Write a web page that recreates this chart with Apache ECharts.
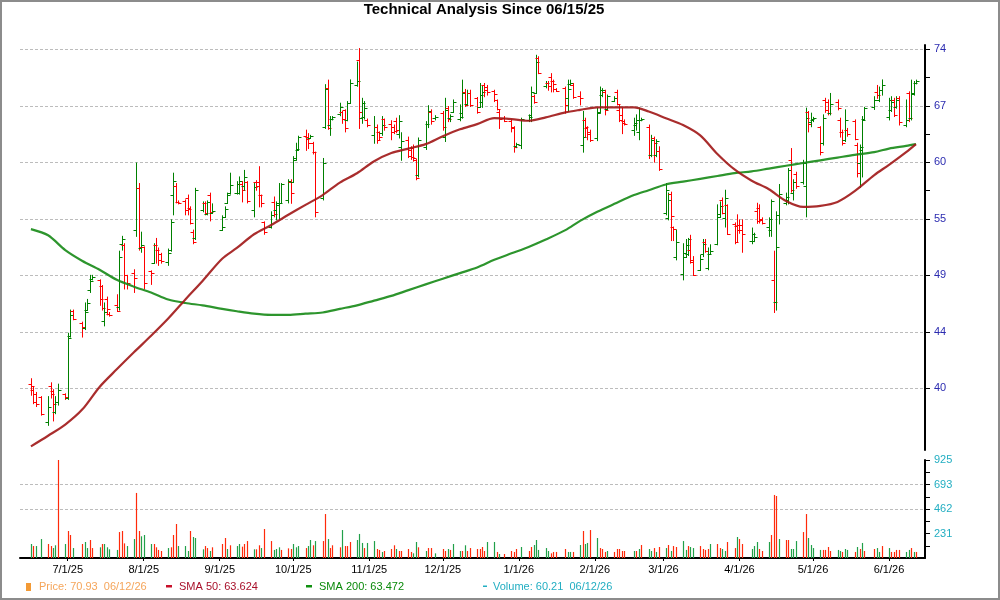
<!DOCTYPE html>
<html>
<head>
<meta charset="utf-8">
<script src="https://cdn.jsdelivr.net/npm/echarts@6/dist/echarts.min.js"></script>
<style>
  html, body { margin: 0; padding: 0; background: #fff; }
  #chart { width: 1000px; height: 600px; }
</style>
</head>
<body>
<div id="chart"></div>
<script>
// ---- data ----
const titleText = 'Technical Analysis Since 06/15/25';
const priceTicks = ['40', '44', '49', '55', '60', '67', '74'];   // log-spaced gridlines
const volumeTicks = [231, 462, 693, 925];
const legendTexts = ['Price: 70.93  06/12/26', 'SMA 50: 63.624', 'SMA 200: 63.472', 'Volume: 60.21  06/12/26'];
const monthStarts = ['2025-07-01', '2025-08-01', '2025-09-01', '2025-10-01', '2025-11-01', '2025-12-01',
  '2026-01-01', '2026-02-01', '2026-03-01', '2026-04-01', '2026-05-01', '2026-06-01'];
const holidays = ['2025-06-19', '2025-07-04', '2025-09-01', '2025-11-27', '2025-12-25',
  '2026-01-01', '2026-01-19', '2026-02-16', '2026-04-03', '2026-05-25'];

// open, high, low, close for each trading day 06/16/25 .. 06/12/26
const ohlc = [
  // Jun 25
  [40.3,40.7,39.5,40.2],[39.9,40.1,38.9,39.0],[39.6,39.7,38.7,38.9],[39.4,39.4,38.1,38.2],
  [37.6,39.4,37.4,38.7],[40.2,40.4,39.3,39.6],[39.8,39.9,37.7,38.9],[38.3,39.4,38.2,39.0],[39.0,40.3,38.8,39.9],
  [39.6,39.6,39.2,39.35],
  // Jul
  [39.3,44.2,39.2,43.8],[44.0,46.1,43.9,45.7],[46.0,46.1,45.3,45.4],
  [45.0,45.1,43.9,44.7],[44.6,46.7,44.5,45.9],[46.1,47.0,46.1,46.7],[47.8,49.1,47.6,48.6],[48.8,49.1,48.7,48.95],
  [48.7,48.7,46.5,47.0],[48.2,48.2,46.1,46.3],[45.2,46.7,44.8,45.9],[47.0,47.2,45.7,46.2],[45.8,45.9,45.6,45.65],
  [46.5,47.4,46.0,46.0],[46.4,51.3,46.1,50.8],[52.0,52.7,51.4,52.4],[51.9,52.0,47.9,49.1],[49.1,49.1,47.9,48.4],
  [49.3,49.6,47.6,48.9],[53.3,60.2,52.7,57.5],[57.5,58.0,51.4,51.7],[51.6,53.1,51.2,51.9],
  // Aug
  [51.7,51.7,47.9,48.4],
  [49.5,49.5,48.3,49.3],[50.2,52.0,50.2,51.9],[51.9,52.5,50.2,51.4],[51.4,51.6,50.0,50.5],[51.0,51.1,50.2,50.4],
  [50.3,51.5,50.0,51.1],[51.4,54.3,51.3,54.1],[56.8,59.1,54.8,58.3],[57.7,58.0,56.0,56.1],[56.1,56.2,55.9,56.0],
  [56.2,56.3,54.8,55.3],[56.5,56.8,54.8,55.4],[55.5,55.6,53.9,54.0],[53.1,53.3,52.0,52.2],[52.5,57.5,52.4,57.3],
  [55.3,56.1,55.1,56.0],[55.96,56.1,54.8,54.95],[54.9,56.2,54.8,56.1],[56.8,57.0,54.2,55.1],[55.0,55.9,55.0,55.2],
  // Sep
  [53.3,54.7,53.3,53.6],[54.6,55.6,54.6,55.4],[56.0,57.0,56.0,56.8],[57.0,59.1,56.9,57.8],
  [57.0,58.2,56.9,58.0],[57.0,58.7,56.9,58.3],[58.0,58.2,56.1,57.3],[57.7,59.4,57.3,58.7],[58.2,58.2,56.0,56.2],
  [55.3,58.0,54.6,57.6],[58.2,58.3,57.3,57.7],[58.2,59.8,55.6,56.8],[56.8,56.8,55.6,55.96],[54.1,54.1,52.9,53.1],
  [53.6,55.1,53.5,54.8],[56.1,56.6,54.6,54.9],[55.3,56.1,54.3,56.0],[55.8,58.0,54.3,56.0],[56.0,58.0,56.0,57.9],
  [56.3,58.4,56.0,58.3],[58.2,58.4,55.96,57.0],
  // Oct
  [58.2,60.9,58.2,60.5],[60.7,62.4,60.5,61.8],[61.6,63.2,61.6,63.1],
  [63.2,63.9,61.6,62.9],[63.1,63.5,61.8,62.4],[63.0,63.3,63.0,63.2],[62.4,62.5,61.2,61.4],[61.4,61.4,54.6,55.1],
  [56.5,60.7,56.3,60.2],[64.3,69.4,64.1,68.9],[69.0,69.97,64.0,64.1],[64.5,65.5,63.3,65.2],[65.2,65.5,65.1,65.4],
  [65.8,67.1,65.6,66.7],[66.1,66.1,64.7,65.2],[66.3,66.3,63.7,64.2],[65.1,67.3,65.0,67.1],[67.1,70.0,67.1,69.6],
  [69.3,72.3,69.2,69.8],[72.6,74.1,64.1,66.1],[65.3,67.7,64.7,67.1],[65.5,67.3,65.2,66.5],[65.1,65.2,64.3,64.5],
  // Nov
  [63.3,65.5,62.4,64.3],[64.3,64.5,62.4,62.8],[63.7,63.7,62.8,63.1],[63.6,65.5,63.3,64.5],[65.2,65.2,63.9,64.3],
  [64.6,65.0,62.8,63.7],[64.3,64.5,63.5,63.8],[65.0,65.3,63.6,63.9],[63.5,65.6,63.0,65.0],[62.0,63.6,60.5,62.6],
  [62.8,63.1,60.8,61.0],[61.6,62.0,60.6,60.9],[61.9,62.2,60.4,60.7],[60.5,60.6,58.4,58.6],[58.9,63.0,58.7,62.8],
  [62.0,64.9,61.7,64.6],[64.6,66.8,64.2,66.2],[66.0,66.3,64.6,65.0],[65.3,65.6,65.1,65.5],
  // Dec
  [65.9,66.1,63.9,64.3],[63.1,67.7,62.6,66.3],[66.5,66.7,64.9,65.15],[65.3,65.7,64.9,65.6],[66.1,67.5,66.0,67.3],
  [65.2,66.9,65.0,65.4],[65.9,69.97,65.3,68.3],[68.5,68.8,66.7,66.9],[67.0,68.7,66.9,68.3],[68.3,68.7,66.7,66.9],
  [67.7,67.8,65.9,66.1],[66.7,69.55,66.6,68.1],[67.3,69.3,66.6,68.5],[69.3,69.55,67.9,68.7],[69.1,69.3,68.1,68.5],
  [68.6,68.7,67.3,68.2],[67.5,67.5,66.3,66.35],[66.1,66.3,64.1,65.2],[65.3,65.5,64.9,65.0],
  [65.0,65.1,63.7,64.3],[64.2,64.3,61.4,62.0],[62.1,62.4,61.9,62.3],
  // Jan 26
  [62.2,65.3,61.8,65.2],
  [65.1,65.7,64.9,65.5],[65.7,69.1,64.9,68.5],[68.0,68.1,67.1,67.3],[68.4,73.2,68.3,72.3],[72.8,73.0,70.8,70.9],
  [69.2,69.8,69.0,69.55],[69.6,69.8,68.7,69.2],[70.4,70.8,68.5,69.8],[69.9,69.97,68.5,69.5],[68.8,68.9,68.6,68.65],
  [69.0,69.1,65.9,66.9],[67.7,69.97,66.1,68.8],[69.5,69.97,69.3,69.6],[69.3,69.55,67.7,67.9],
  [68.0,68.5,66.9,67.8],[62.2,66.1,61.4,63.1],[65.1,65.3,63.1,64.3],[64.1,64.3,62.8,63.5],[63.7,63.9,62.6,62.8],
  // Feb
  [63.0,66.5,62.7,65.9],[66.0,69.1,65.9,68.7],[68.1,68.9,67.9,68.7],[68.5,68.7,65.7,66.3],[66.35,68.1,66.3,68.0],
  [67.4,67.9,67.3,67.7],[68.5,68.7,66.9,67.0],[66.3,66.9,64.9,65.1],[65.7,66.5,63.5,64.7],[65.0,65.1,64.5,64.6],
  [63.9,65.3,63.3,64.7],[64.5,65.7,63.9,65.1],[63.7,66.5,62.8,65.1],[65.1,65.3,65.0,65.25],
  [64.3,64.5,60.7,61.1],[61.1,63.3,60.9,62.8],[63.0,63.1,60.3,62.4],[61.1,62.8,60.9,62.6],[61.5,62.0,59.4,59.5],
  // Mar
  [55.0,58.0,54.8,57.3],[54.5,57.0,54.3,56.3],[56.9,57.1,52.3,54.7],[53.6,53.6,52.3,53.4],[50.8,53.3,50.5,52.2],
  [49.2,52.0,48.7,51.1],[50.8,52.4,50.8,51.9],[51.0,52.5,50.9,52.4],[51.4,52.8,50.2,50.3],[50.5,50.8,49.1,49.15],
  [49.6,50.9,49.6,50.6],[51.0,52.4,50.8,52.0],[52.2,52.4,51.2,51.3],[49.8,51.6,49.6,51.0],[51.0,51.9,51.0,51.3],
  [52.0,55.8,51.9,54.9],[54.6,56.1,54.6,55.7],[56.3,56.5,54.9,55.0],[54.5,57.3,53.6,56.5],[55.8,55.8,52.9,52.9],
  [53.9,54.0,52.0,52.2],[53.7,54.8,52.2,53.3],
  // Apr
  [53.8,54.3,53.0,53.3],[53.8,54.3,51.2,52.9],
  [52.3,53.5,52.0,52.9],[52.3,53.0,52.2,52.6],[55.2,55.96,53.96,54.2],[55.5,55.8,54.0,54.3],[54.4,54.5,53.9,54.0],
  [53.6,54.5,52.7,54.4],[53.3,56.3,52.7,56.2],[48.7,51.3,45.9,46.8],[46.8,55.1,46.1,51.7],[54.8,57.9,53.9,56.9],
  [56.0,57.0,55.8,56.6],[56.3,59.6,55.9,59.4],[60.5,61.8,57.1,57.3],[57.0,58.4,56.3,58.2],[59.0,59.2,57.5,57.7],
  [58.2,60.5,57.95,60.2],[57.7,66.5,54.6,65.3],[66.0,66.1,63.7,64.6],[64.9,65.9,64.3,65.2],
  // May
  [65.1,65.4,64.9,65.3],
  [64.3,64.3,61.1,61.4],[62.4,65.7,62.2,65.3],[67.5,67.7,66.0,66.3],[67.3,67.5,65.7,65.9],[65.9,68.3,65.7,67.0],
  [67.3,67.5,66.3,66.5],[65.1,65.3,63.1,63.7],[63.7,63.9,62.2,62.4],[62.8,66.3,62.6,65.1],[63.9,64.1,63.2,63.45],
  [65.0,65.1,62.8,62.9],[62.2,62.4,58.7,59.1],[60.2,62.2,57.6,62.0],[61.6,65.5,58.7,65.1],[65.2,66.6,65.1,66.5],
  [66.6,67.9,66.35,67.5],[68.5,69.3,67.7,68.1],[67.5,69.1,67.3,68.7],[68.7,70.0,68.1,69.3],
  // Jun
  [65.4,67.7,65.1,67.5],[66.3,67.9,66.1,67.3],[67.5,67.7,65.5,65.7],[66.7,67.9,66.5,67.5],[67.7,67.9,64.5,64.9],
  [64.5,67.5,64.3,65.1],[68.3,68.5,64.9,65.3],[65.3,69.97,65.1,68.3],[68.2,69.8,68.1,69.55],[69.6,69.97,69.5,69.8]
];

// volume (thousands), same trading days
const volume = [
  132,113,113,179,132,113,94,120,925,132,
  255,217,94,132,151,94,170,94,101,132,132,101,82,76,245,255,138,113,179,614,255,205,
  217,132,132,101,76,66,94,101,217,321,113,113,66,255,198,189,82,113,94,66,101,
  132,189,85,120,113,132,107,132,160,82,82,120,94,274,160,76,85,101,76,91,85,
  132,101,113,94,113,170,120,160,160,415,179,94,120,101,264,113,113,151,170,227,142,94,142,
  160,85,76,57,66,85,120,85,66,66,85,57,44,151,101,66,94,94,44,
  85,66,85,76,132,66,66,120,66,94,85,85,104,66,151,151,57,38,38,66,57,85,
  104,66,104,123,170,76,94,66,44,57,57,85,57,57,57,123,255,132,142,264,
  189,94,85,57,66,57,85,85,66,66,66,66,85,123,85,66,94,57,104,
  94,123,66,113,104,160,76,113,104,94,113,85,76,85,132,132,94,85,66,151,94,198,
  179,132,85,113,151,85,66,151,217,595,585,179,170,170,85,85,160,245,415,189,123,
  94,76,76,76,104,66,76,66,57,85,76,57,104,85,142,66,85,94,57,113,
  94,57,57,76,76,57,76,94,57,57
];
// volume bar colour per day, g = green, r = red (by month)
const volumeColour = [
  'grggrrggrg', 'rrgrggrrgrggggrrrggrrg', 'ggrrrrgrrrgggrgggrrgr', 'rrgrggrrrgrrgrrgggrrr',
  'gggrggrgrrgrrrgrrrgggrg', 'grrgrrrgrrrrggrgrrg', 'rrgrggrgrrrrrrggrgrrrr', 'grrgggggrrrrggrgrggr',
  'grrrgrrrrrgrgrggrgr', 'grgrrggrggrrrrgrrggrrg', 'rrgggrrgrrrgrrgggrrgg', 'ggrrrrggrggrgrgrrggr', 'grrrrggrgr'
].join('');

// moving averages sampled weekly
const sma50 = [
  ['2025-06-16',36.0],['2025-06-23',36.7],['2025-06-30',37.45],['2025-07-07',38.5],['2025-07-14',40.1],
  ['2025-07-21',41.4],['2025-07-28',42.7],['2025-08-04',44.0],['2025-08-11',45.4],['2025-08-18',47.0],
  ['2025-08-25',48.6],['2025-09-02',50.6],['2025-09-08',51.6],['2025-09-15',52.9],['2025-09-22',53.8],
  ['2025-09-29',54.8],['2025-10-06',55.8],['2025-10-13',56.8],['2025-10-20',58.1],['2025-10-27',59.1],
  ['2025-11-03',60.4],['2025-11-10',61.3],['2025-11-17',61.8],['2025-11-24',62.3],['2025-12-01',63.2],
  ['2025-12-08',64.0],['2025-12-15',64.6],['2025-12-22',65.3],['2025-12-29',65.2],['2026-01-05',65.0],
  ['2026-01-12',65.4],['2026-01-20',66.0],['2026-01-26',66.3],['2026-02-02',66.6],['2026-02-09',66.6],
  ['2026-02-17',66.6],['2026-02-23',66.1],['2026-03-02',65.3],['2026-03-09',64.5],['2026-03-16',63.3],
  ['2026-03-23',61.2],['2026-03-30',59.5],['2026-04-06',58.3],['2026-04-13',57.4],['2026-04-20',56.2],
  ['2026-04-27',55.6],['2026-05-04',55.7],['2026-05-11',56.1],['2026-05-18',57.2],['2026-05-26',58.9],
  ['2026-06-01',60.0],['2026-06-08',61.4],['2026-06-12',62.3]
];
const sma200 = [
  ['2025-06-16',53.4],['2025-06-23',52.8],['2025-06-30',51.4],['2025-07-07',50.4],['2025-07-14',49.6],
  ['2025-07-21',48.7],['2025-07-28',48.1],['2025-08-04',47.6],['2025-08-11',47.0],['2025-08-18',46.7],
  ['2025-08-25',46.5],['2025-09-02',46.2],['2025-09-08',46.0],['2025-09-15',45.8],['2025-09-22',45.7],
  ['2025-09-29',45.7],['2025-10-06',45.8],['2025-10-13',45.9],['2025-10-20',46.2],['2025-10-27',46.5],
  ['2025-11-03',46.9],['2025-11-10',47.3],['2025-11-17',47.8],['2025-11-24',48.3],['2025-12-01',48.8],
  ['2025-12-08',49.3],['2025-12-15',49.8],['2025-12-22',50.5],['2025-12-29',51.1],['2026-01-05',51.7],
  ['2026-01-12',52.4],['2026-01-20',53.3],['2026-01-26',54.2],['2026-02-02',55.1],['2026-02-09',55.9],
  ['2026-02-17',56.8],['2026-02-23',57.3],['2026-03-02',57.9],['2026-03-09',58.2],['2026-03-16',58.5],
  ['2026-03-23',58.8],['2026-03-30',59.1],['2026-04-06',59.3],['2026-04-13',59.6],['2026-04-20',59.9],
  ['2026-04-27',60.2],['2026-05-04',60.5],['2026-05-11',60.8],['2026-05-18',61.1],['2026-05-26',61.4],
  ['2026-06-01',61.8],['2026-06-08',62.1],['2026-06-12',62.3]
];

// ---- helpers ----
const FONT = 'Arial, "Liberation Sans", sans-serif';
const UP = '#008000', DOWN = '#ff0000';
const VOL_UP = '#21a049', VOL_DOWN = '#ff2a0a';

function ymd(d) {
  return d.getFullYear() + '-' + String(d.getMonth() + 1).padStart(2, '0') + '-' + String(d.getDate()).padStart(2, '0');
}
function parseDay(s) {
  const [y, m, d] = s.split('-').map(Number);
  return new Date(y, m - 1, d).getTime();
}

// trading days: weekdays minus exchange holidays
const tradeDays = [];
for (let d = new Date(2025, 5, 16); d <= new Date(2026, 5, 12); d.setDate(d.getDate() + 1)) {
  const wd = d.getDay();
  if (wd === 0 || wd === 6 || holidays.includes(ymd(d))) continue;
  tradeDays.push(d.getTime());
}

// price axis is logarithmic: each gridline is one equal ratio step (40 -> 74 in 6 steps)
const STEP = Math.log(74 / 40) / (priceTicks.length - 1);
const toAxis = p => Math.log(p / 40) / STEP;
const tickPos = priceTicks.map((_, i) => i);

// x axis runs on timestamps (a value axis, so ticks can sit on calendar month starts)
const xMin = new Date(2025, 5, 11, 13).getTime();
const xMax = new Date(2026, 5, 15, 16, 30).getTime();
const monthTs = monthStarts.map(parseDay);

const priceData = tradeDays.map((t, i) => [t, toAxis(ohlc[i][0]), toAxis(ohlc[i][1]), toAxis(ohlc[i][2]), toAxis(ohlc[i][3])]);
const volData = tradeDays.map((t, i) => ({
  value: [t, volume[i]],
  itemStyle: { color: volumeColour[i] === 'g' ? VOL_UP : VOL_DOWN }
}));

function renderBar(params, api) {
  const t = api.value(0);
  const o = api.coord([t, api.value(1)]);
  const h = api.coord([t, api.value(2)]);
  const l = api.coord([t, api.value(3)]);
  const c = api.coord([t, api.value(4)]);
  const color = api.value(4) >= api.value(1) ? UP : DOWN;
  const x = Math.round(h[0]) + 0.5;
  const oy = Math.round(o[1]) + 0.5, cy = Math.round(c[1]) + 0.5;
  const st = { stroke: color, lineWidth: 1 };
  return {
    type: 'group',
    children: [
      { type: 'line', shape: { x1: x, y1: Math.min(h[1], oy, cy) - 0.5, x2: x, y2: Math.max(l[1], oy, cy) + 0.5 }, style: st },
      { type: 'line', shape: { x1: x - 3, y1: oy, x2: x, y2: oy }, style: st },
      { type: 'line', shape: { x1: x, y1: cy, x2: x + 3, y2: cy }, style: st }
    ]
  };
}

function renderVol(params, api) {
  const t = api.value(0);
  const top = api.coord([t, api.value(1)]);
  const base = api.coord([t, 0]);
  const x = Math.round(top[0]) + 0.5;
  return {
    type: 'line',
    shape: { x1: x, y1: top[1], x2: x, y2: base[1] },
    style: { stroke: api.visual('color'), lineWidth: 1.2 }
  };
}

const gridLine = { show: true, lineStyle: { color: '#bcbcbc', type: [3, 2], width: 1 } };
const dateLabel = v => { const d = new Date(v); return (d.getMonth() + 1) + '/' + d.getDate() + '/' + String(d.getFullYear()).slice(2); };

const option = {
  animation: false,
  backgroundColor: '#fff',
  grid: [
    { left: 20, right: 75, top: 45, height: 405, outerBoundsMode: 'none' },
    { left: 20, right: 75, top: 460, height: 98, outerBoundsMode: 'none' }
  ],
  xAxis: [
    { type: 'value', gridIndex: 0, min: xMin, max: xMax, show: false, splitLine: { show: false } },
    {
      type: 'value', gridIndex: 1, min: xMin, max: xMax,
      axisLine: { lineStyle: { color: '#000', width: 2 } },
      axisTick: { customValues: monthTs, length: 3, lineStyle: { color: '#000' } },
      axisLabel: { customValues: monthTs, margin: 6, color: '#000', fontSize: 11, fontFamily: FONT, formatter: dateLabel },
      splitLine: { show: false }
    }
  ],
  yAxis: [
    {
      type: 'value', gridIndex: 0, position: 'right', min: -1.092, max: 6.076,
      axisLine: { show: true, lineStyle: { color: '#000', width: 2 } },
      axisTick: { show: true, customValues: tickPos, length: 5, lineStyle: { color: '#000' } },
      axisLabel: {
        customValues: tickPos, margin: 9, color: '#2b2bb0', fontSize: 11, fontFamily: FONT,
        formatter: v => priceTicks[Math.round(v)] || ''
      },
      splitLine: gridLine
    },
    {
      // half-step minor ticks on the price axis
      type: 'value', gridIndex: 0, position: 'right', min: -1.092, max: 6.076,
      axisLine: { show: false },
      axisTick: { show: true, customValues: [3.5, 4.5, 5.5], length: 5, lineStyle: { color: '#000' } },
      axisLabel: { show: false }, splitLine: { show: false }
    },
    {
      type: 'value', gridIndex: 1, position: 'right', min: 0, max: 925,
      axisLine: { show: true, lineStyle: { color: '#000', width: 2 } },
      axisTick: { show: true, customValues: volumeTicks, length: 5, lineStyle: { color: '#000' } },
      axisLabel: { customValues: volumeTicks, margin: 9, color: '#22aec2', fontSize: 11, fontFamily: FONT },
      splitLine: Object.assign({ showMaxLine: false, showMinLine: false }, gridLine)
    },
    {
      type: 'value', gridIndex: 1, position: 'right', min: 0, max: 925,
      axisLine: { show: false },
      axisTick: { show: true, customValues: volumeTicks.map(v => v - 115.6), length: 5, lineStyle: { color: '#000' } },
      axisLabel: { show: false }, splitLine: { show: false }
    }
  ],
  series: [
    {
      name: 'Price', type: 'custom', xAxisIndex: 0, yAxisIndex: 0,
      renderItem: renderBar, encode: { x: 0, y: [1, 2, 3, 4] }, data: priceData, z: 2
    },
    {
      name: 'SMA 200', type: 'line', xAxisIndex: 0, yAxisIndex: 0, showSymbol: false, smooth: 0.3,
      lineStyle: { color: '#168a16', width: 2.2, opacity: 0.9 },
      data: sma200.map(([d, v]) => [parseDay(d), toAxis(v)]), z: 3
    },
    {
      name: 'SMA 50', type: 'line', xAxisIndex: 0, yAxisIndex: 0, showSymbol: false, smooth: 0.3,
      lineStyle: { color: '#a01616', width: 2.2, opacity: 0.9 },
      data: sma50.map(([d, v]) => [parseDay(d), toAxis(v)]), z: 3
    },
    {
      name: 'Volume', type: 'custom', xAxisIndex: 1, yAxisIndex: 2,
      renderItem: renderVol, encode: { x: 0, y: 1 }, data: volData
    }
  ],
  graphic: [
    { type: 'rect', shape: { x: 1, y: 1, width: 998, height: 598 }, style: { fill: null, stroke: '#8c8c8c', lineWidth: 2 }, silent: true },
    {
      type: 'text', x: 484, y: 10,
      style: { text: titleText, font: 'bold 15px ' + FONT, fill: '#000', align: 'center', verticalAlign: 'middle' }
    },
    { type: 'rect', shape: { x: 26, y: 583, width: 5, height: 8 }, style: { fill: '#f39a35' } },
    { type: 'text', x: 39, y: 587, style: { text: legendTexts[0], font: '11px ' + FONT, fill: '#f5a55a', verticalAlign: 'middle' } },
    { type: 'rect', shape: { x: 166, y: 585, width: 6, height: 2.5 }, style: { fill: '#c8102a' } },
    { type: 'text', x: 179, y: 587, style: { text: legendTexts[1], font: '11px ' + FONT, fill: '#a8102a', verticalAlign: 'middle' } },
    { type: 'rect', shape: { x: 306, y: 585, width: 6, height: 2.5 }, style: { fill: '#109010' } },
    { type: 'text', x: 319, y: 587, style: { text: legendTexts[2], font: '11px ' + FONT, fill: '#0a8a0a', verticalAlign: 'middle' } },
    { type: 'rect', shape: { x: 483, y: 585.5, width: 4, height: 1.5 }, style: { fill: '#22aec2' } },
    { type: 'text', x: 493, y: 587, style: { text: legendTexts[3], font: '11px ' + FONT, fill: '#22aec2', verticalAlign: 'middle' } }
  ]
};

const chart = echarts.init(document.getElementById('chart'));
chart.setOption(option);
</script>
</body>
</html>
